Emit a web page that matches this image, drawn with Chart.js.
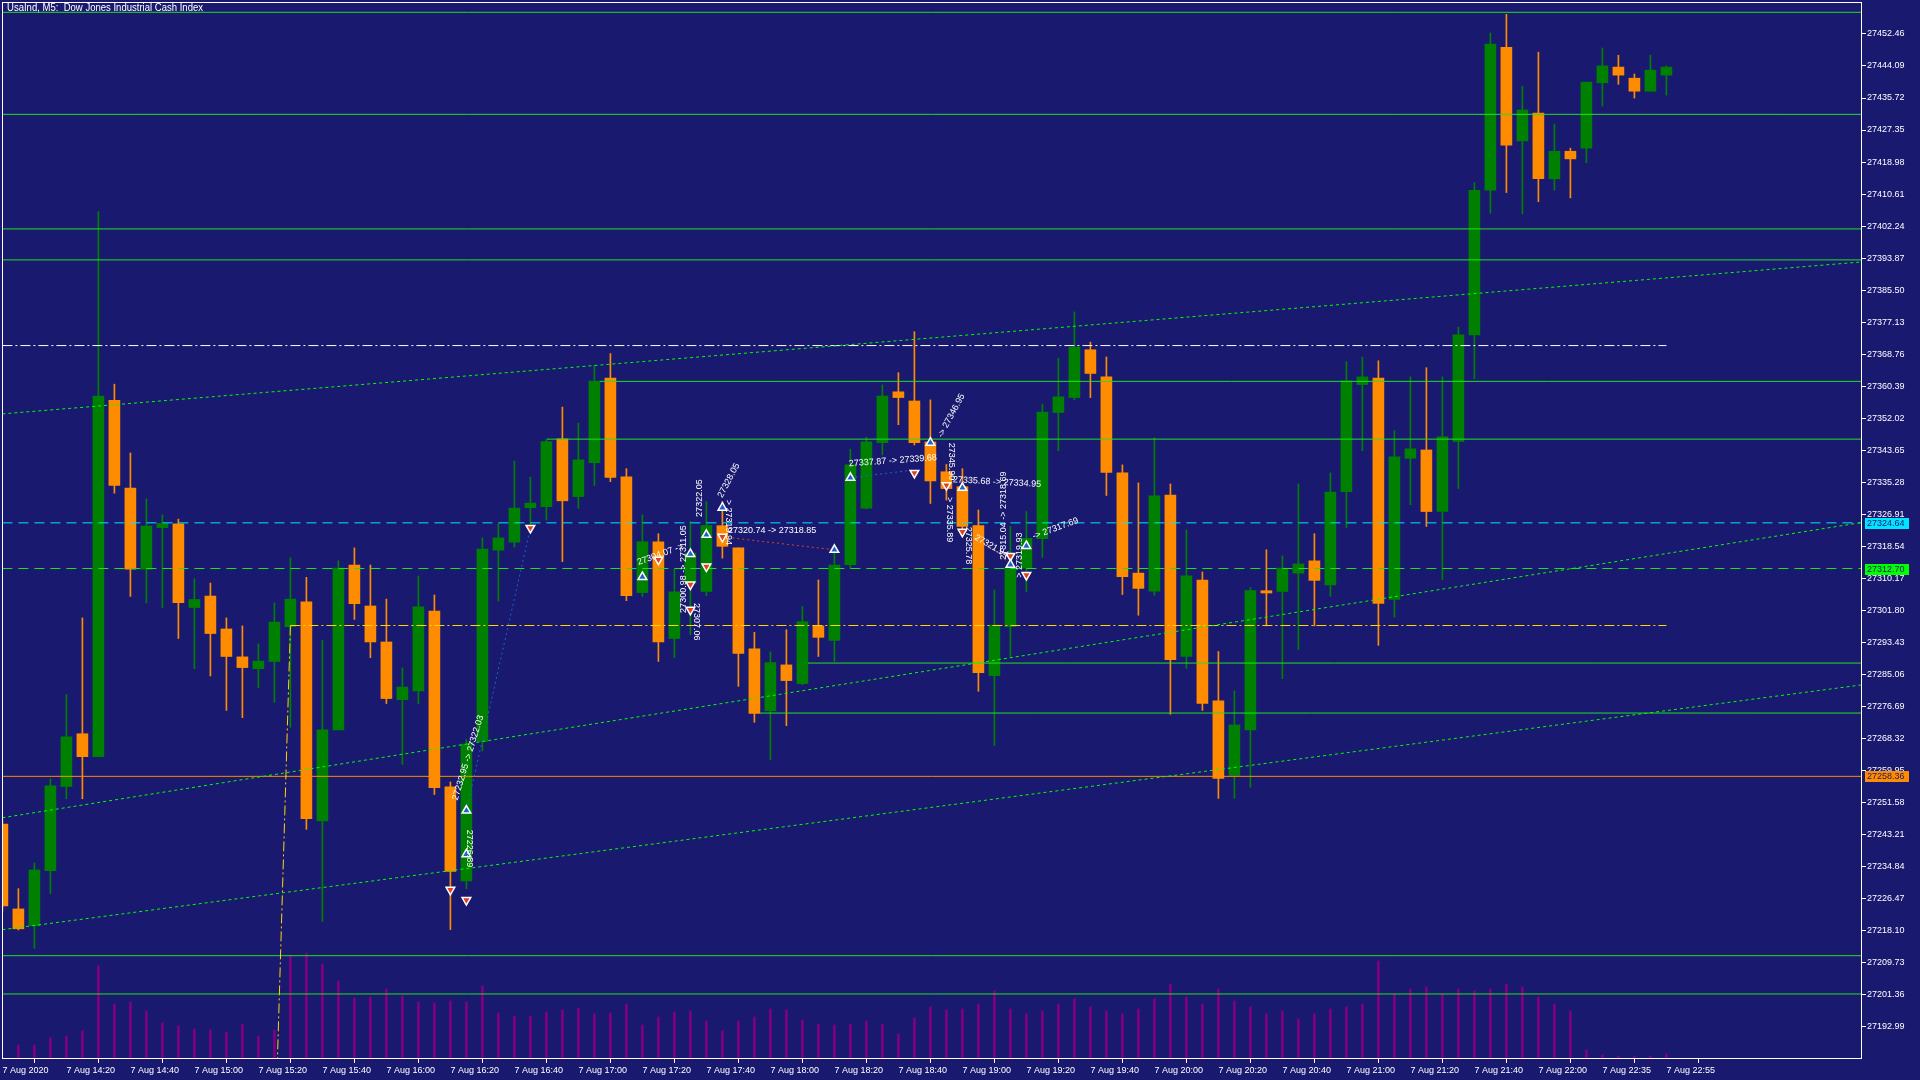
<!DOCTYPE html>
<html>
<head>
<meta charset="utf-8">
<title>UsaInd, M5</title>
<script src="https://cdn.jsdelivr.net/npm/chart.js@4.4.0/dist/chart.umd.min.js"></script>
<style>
    html, body { margin: 0; padding: 0; background: #191970; }
    #wrap { width: 1920px; height: 1080px; position: relative; }
</style>
</head>
<body>
<div id="wrap"><canvas id="chart" width="1920" height="1080"></canvas></div>
<script>
// Chart title
const chartTitle = 'UsaInd, M5:  Dow Jones Industrial Cash Index';

// Time axis labels (one every 4 bars of 5 minutes)
const xTickBars = [0, 4, 8, 12, 16, 20, 24, 28, 32, 36, 40, 44, 48, 52, 56, 60, 64, 68, 72, 76, 80, 84, 88, 92, 96, 100, 104];
const xTickLabels = ['7 Aug 2020', '7 Aug 14:20', '7 Aug 14:40', '7 Aug 15:00', '7 Aug 15:20', '7 Aug 15:40', '7 Aug 16:00',
    '7 Aug 16:20', '7 Aug 16:40', '7 Aug 17:00', '7 Aug 17:20', '7 Aug 17:40', '7 Aug 18:00', '7 Aug 18:20', '7 Aug 18:40',
    '7 Aug 19:00', '7 Aug 19:20', '7 Aug 19:40', '7 Aug 20:00', '7 Aug 20:20', '7 Aug 20:40', '7 Aug 21:00', '7 Aug 21:20',
    '7 Aug 21:40', '7 Aug 22:00', '7 Aug 22:35', '7 Aug 22:55'];

// Price axis labels
const yTickLabels = ['27452.46', '27444.09', '27435.72', '27427.35', '27418.98', '27410.61', '27402.24', '27393.87',
    '27385.50', '27377.13', '27368.76', '27360.39', '27352.02', '27343.65', '27335.28', '27326.91', '27318.54', '27310.17',
    '27301.80', '27293.43', '27285.06', '27276.69', '27268.32', '27259.95', '27251.58', '27243.21', '27234.84', '27226.47',
    '27218.10', '27209.73', '27201.36', '27192.99'];
const priceMin = 27184.46;
const priceMax = 27460.82;

// OHLC per 5 minute bar, 14:00 .. 22:55
const opens = [27245.9, 27223.7, 27219.3, 27233.7, 27255.7, 27269.5, 27263.5, 27356.7, 27333.7, 27312.5,
    27323.4, 27324.4, 27302.5, 27305.5, 27296.9, 27289.6, 27286.5, 27288.4, 27297.5, 27304.0,
    27246.7, 27270.5, 27313.6, 27302.9, 27293.5, 27278.4, 27280.7, 27301.6, 27255.6, 27231.0,
    27267.5, 27317.5, 27319.6, 27328.6, 27328.9, 27346.6, 27331.5, 27340.4, 27362.5, 27336.7,
    27306.4, 27319.7, 27294.4, 27308.9, 27306.7, 27323.9, 27318.1, 27291.7, 27275.5, 27287.5,
    27282.6, 27297.7, 27293.9, 27313.7, 27328.5, 27345.6, 27358.9, 27356.5, 27345.8, 27338.0,
    27334.1, 27323.9, 27284.7, 27297.5, 27312.8, 27320.5, 27353.5, 27357.4, 27369.9, 27362.8,
    27337.7, 27311.5, 27306.8, 27331.9, 27289.7, 27309.7, 27278.1, 27258.6, 27270.5, 27306.9,
    27306.7, 27311.5, 27314.7, 27308.4, 27332.8, 27360.8, 27362.5, 27304.6, 27341.5, 27343.7,
    27327.6, 27345.9, 27373.8, 27411.6, 27449.0, 27424.5, 27431.8, 27414.6, 27421.8, 27422.6,
    27439.7, 27443.8, 27440.9, 27437.5, 27441.7];
const highs = [27247.0, 27229.0, 27235.7, 27257.7, 27279.7, 27299.8, 27406.0, 27360.9, 27342.9, 27330.9,
    27326.7, 27325.6, 27310.0, 27308.9, 27299.8, 27297.7, 27293.0, 27303.7, 27315.5, 27310.4,
    27294.0, 27314.7, 27318.1, 27313.6, 27304.7, 27286.7, 27310.7, 27305.8, 27256.9, 27268.0,
    27320.7, 27324.4, 27340.8, 27336.6, 27346.5, 27354.9, 27350.7, 27365.8, 27368.9, 27338.8,
    27326.7, 27321.8, 27312.5, 27325.0, 27330.2, 27330.2, 27318.1, 27296.0, 27290.9, 27296.7,
    27302.8, 27309.7, 27318.5, 27343.9, 27347.0, 27360.7, 27363.9, 27374.6, 27356.8, 27339.9,
    27338.8, 27328.0, 27307.1, 27323.7, 27327.6, 27355.7, 27367.7, 27379.8, 27371.9, 27368.0,
    27339.8, 27335.1, 27346.9, 27334.8, 27322.8, 27311.8, 27291.0, 27280.7, 27307.7, 27317.6,
    27316.0, 27334.8, 27321.8, 27337.7, 27366.8, 27368.0, 27367.0, 27348.7, 27362.8, 27365.2,
    27362.8, 27375.8, 27413.6, 27452.7, 27457.6, 27438.8, 27447.7, 27428.9, 27422.6, 27439.9,
    27448.8, 27446.9, 27442.0, 27446.9, 27444.1];
const lows = [27223.0, 27218.2, 27213.4, 27227.7, 27252.5, 27252.5, 27263.5, 27332.4, 27305.4, 27303.7,
    27302.5, 27294.4, 27286.5, 27284.6, 27275.6, 27273.7, 27281.5, 27277.7, 27271.2, 27244.5,
    27220.4, 27270.5, 27299.4, 27289.4, 27277.4, 27261.5, 27277.4, 27253.6, 27218.3, 27229.0,
    27265.0, 27304.2, 27318.3, 27323.2, 27325.4, 27314.5, 27328.4, 27334.4, 27335.4, 27304.3,
    27305.4, 27288.4, 27289.4, 27295.4, 27305.6, 27315.4, 27281.9, 27272.5, 27262.7, 27271.6,
    27282.3, 27289.7, 27288.4, 27312.8, 27328.3, 27342.4, 27350.3, 27345.0, 27329.7, 27330.6,
    27322.0, 27280.6, 27266.4, 27289.7, 27306.7, 27315.6, 27343.5, 27356.8, 27357.4, 27331.8,
    27305.9, 27300.5, 27305.7, 27274.6, 27286.6, 27275.6, 27252.6, 27252.6, 27255.5, 27297.7,
    27283.9, 27291.5, 27297.7, 27305.4, 27323.4, 27343.5, 27292.6, 27300.0, 27329.4, 27323.7,
    27309.8, 27333.6, 27362.3, 27405.6, 27411.0, 27405.4, 27408.6, 27411.6, 27409.6, 27418.8,
    27433.6, 27439.3, 27435.7, 27437.5, 27436.5];
const closes = [27224.5, 27218.5, 27233.9, 27255.9, 27268.7, 27263.5, 27357.8, 27334.4, 27312.5, 27323.8,
    27324.5, 27303.8, 27304.6, 27295.7, 27289.7, 27286.8, 27288.5, 27298.7, 27304.7, 27247.3,
    27270.5, 27312.8, 27303.5, 27293.5, 27278.7, 27281.7, 27302.7, 27255.4, 27233.5, 27266.8,
    27317.8, 27320.7, 27328.5, 27329.8, 27345.9, 27330.4, 27341.1, 27361.7, 27336.5, 27305.6,
    27319.7, 27293.5, 27306.6, 27316.7, 27323.9, 27318.5, 27290.5, 27274.8, 27288.1, 27283.4,
    27298.8, 27294.7, 27313.6, 27339.8, 27345.8, 27357.8, 27357.4, 27345.6, 27335.6, 27333.6,
    27323.7, 27285.5, 27297.9, 27312.8, 27320.6, 27353.6, 27357.6, 27370.6, 27363.7, 27337.8,
    27310.6, 27307.5, 27331.7, 27288.9, 27310.8, 27277.4, 27257.8, 27271.8, 27306.9, 27306.3,
    27312.8, 27313.9, 27309.6, 27332.7, 27361.8, 27362.8, 27303.6, 27341.9, 27344.0, 27327.6,
    27347.1, 27373.8, 27411.6, 27449.8, 27423.4, 27432.6, 27414.6, 27421.8, 27419.8, 27439.9,
    27444.1, 27441.7, 27437.5, 27443.0, 27443.8];

// Tick volume per bar
const volumes = [0, 14, 14, 21, 23, 28, 93, 55, 57, 48, 36, 33, 30, 29, 27, 35, 23, 29, 104, 106,
    95, 78, 61, 62, 70, 63, 57, 56, 58, 57, 73, 46, 43, 43, 47, 49, 51, 45, 46, 55,
    34, 42, 47, 48, 38, 28, 38, 42, 50, 49, 39, 35, 34, 35, 38, 35, 25, 41, 52, 49,
    50, 55, 68, 50, 45, 48, 55, 60, 52, 48, 45, 50, 60, 75, 62, 55, 70, 58, 52, 45,
    48, 40, 45, 50, 52, 55, 98, 65, 70, 72, 65, 70, 68, 70, 75, 72, 62, 55, 48, 9,
    4, 3, 3, 3, 5];
const volumeMax = 1057;

// Horizontal levels: price, first bar, last bar
const levelPrices = [27458.13, 27431.45, 27401.49, 27393.39, 27370.99, 27361.63, 27346.53, 27324.64,
    27312.70, 27297.80, 27287.98, 27274.91, 27258.36, 27211.47, 27201.46];
const levelFrom = [0, 0, 0, 0, 0, 37.35, 34.04, 0, 0, 18, 50.35, 47.35, 0, 0, 0];
const levelTo = [117, 117, 117, 117, 104, 117, 117, 117, 117, 104, 117, 117, 117, 117, 117];

// Sloped trend lines (dotted)
const trendFromBar = [0, 0, 0];
const trendToBar = [116.25, 116.25, 116.25];
const trendFromPrice = [27353.13, 27247.54, 27218.27];
const trendToPrice = [27392.87, 27324.75, 27282.30];

// Near-vertical dash-dot marker line
const vlineBars = [18.0, 17.19];
const vlinePrices = [27297.80, priceMin];

// Price labels on the axis
const axisTagPrices = [27324.64, 27312.70, 27258.36];

// Trade arrows
const buyBars = [29, 29, 40, 43, 44, 45, 52, 53, 58, 60, 63, 64];
const buyPrices = [27249.4, 27238.0, 27310.5, 27316.5, 27321.5, 27328.6, 27317.6, 27336.4, 27345.6, 27333.8, 27313.7, 27318.6];
const sellBars = [28, 29, 33, 41, 43, 43, 44, 45, 57, 59, 60, 63, 64];
const sellPrices = [27228.7, 27226.0, 27323.3, 27315.0, 27308.5, 27301.9, 27313.2, 27321.0, 27337.7, 27334.5, 27322.3, 27316.0, 27311.0];

// Trade links: from bar/price to bar/price
const linkFromBar = [29, 45, 53, 61];
const linkFromPrice = [27249.4, 27321.0, 27336.4, 27321.5];
const linkToBar = [33, 52, 57, 63];
const linkToPrice = [27323.3, 27317.6, 27338.5, 27313.7];

// Trade notes
const noteTexts = ['27320.74 -> 27318.85', '27337.87 -> 27339.68', '27335.68 -> 27334.95', '-> 27346.95',
    '27328.05', '27322.05', '27300.98 -> 27311.05', '27307.06', '> 27319.94', '27304.07 ->',
    '27345.90', '> 27335.89', '27325.78', '27315.04 -> 27318.69', '> 27319.93', '-> 27317.69',
    '27321.94', '27232.95 -> 27322.03', '27226.89'];
const noteBars = [45.35, 52.9, 59.4, 58.6, 44.85, 43.6, 42.6, 43.4, 45.35, 39.7,
    59.3, 59.2, 60.35, 62.6, 63.6, 64.4, 60.8, 28.3, 29.2];
const notePrices = [27322.56, 27340.07, 27335.89, 27347.1, 27331.4, 27326.2, 27301.1, 27303.7, 27330.7, 27314.2,
    27345.6, 27331.4, 27323.6, 27315.0, 27310.3, 27321.0, 27321.0, 27252.2, 27244.4];
const noteAngles = [0, -4, 3, -62, -62, -90, -90, 90, 90, -20, 90, 90, 90, -90, -90, -20, 30, -73, 90];

// Colours
const BG = '#191970';
const BULL = '#008000';
const BEAR = '#FF8C00';
const LIME = '#22e022';
const levelStyles = [
    { color: LIME, dash: [] }, { color: LIME, dash: [] }, { color: LIME, dash: [] }, { color: LIME, dash: [] },
    { color: '#ffffff', dash: [10, 3, 2, 3] }, { color: LIME, dash: [] }, { color: LIME, dash: [] },
    { color: '#00e5ff', dash: [10, 6] }, { color: LIME, dash: [10, 6] }, { color: '#FFD700', dash: [10, 3, 2, 3] },
    { color: LIME, dash: [] }, { color: LIME, dash: [] }, { color: BEAR, dash: [] }, { color: LIME, dash: [] },
    { color: LIME, dash: [] }
];
const axisTagColors = ['#00e5ff', '#00ff00', '#FF8C00'];

document.addEventListener('DOMContentLoaded', function() {
    const ctx = document.getElementById('chart').getContext('2d');
    const candleColors = opens.map((o, i) => closes[i] >= o ? BULL : BEAR);

    const datasets = [];

    // Volumes
    datasets.push({
        type: 'bar', yAxisID: 'yv', order: 20, grouped: false,
        data: volumes.map((v, i) => ({ x: i, y: v })),
        backgroundColor: '#800080', barThickness: 2
    });
    // Wicks
    datasets.push({
        type: 'bar', order: 15, grouped: false,
        data: highs.map((h, i) => ({ x: i, y: [lows[i], h] })),
        backgroundColor: candleColors, barThickness: 1, minBarLength: 1
    });
    // Bodies
    datasets.push({
        type: 'bar', order: 14, grouped: false,
        data: opens.map((o, i) => ({ x: i, y: [o, closes[i]] })),
        backgroundColor: candleColors, barThickness: 11, minBarLength: 1
    });
    // Horizontal levels
    levelPrices.forEach((p, k) => {
        datasets.push({
            type: 'line', order: 8,
            data: [{ x: levelFrom[k], y: p }, { x: levelTo[k], y: p }],
            borderColor: levelStyles[k].color, borderWidth: 1, borderDash: levelStyles[k].dash,
            pointRadius: 0
        });
    });
    // Trend lines
    trendFromBar.forEach((b, k) => {
        datasets.push({
            type: 'line', order: 7,
            data: [{ x: b, y: trendFromPrice[k] }, { x: trendToBar[k], y: trendToPrice[k] }],
            borderColor: '#00ff00', borderWidth: 1, borderDash: [3, 3], pointRadius: 0
        });
    });
    // Vertical dash-dot marker
    datasets.push({
        type: 'line', order: 7,
        data: vlineBars.map((b, k) => ({ x: b, y: vlinePrices[k] })),
        borderColor: '#FFD700', borderWidth: 1, borderDash: [10, 3, 2, 3], pointRadius: 0
    });
    // Trade links
    linkFromBar.forEach((b, k) => {
        datasets.push({
            type: 'line', order: 6,
            data: [{ x: b, y: linkFromPrice[k] }, { x: linkToBar[k], y: linkToPrice[k] }],
            borderColor: k % 2 === 0 ? '#1e64c8' : '#e04020', borderWidth: 1, borderDash: [2, 3], pointRadius: 0
        });
    });
    // Trade arrows
    datasets.push({
        type: 'scatter', order: 2,
        data: buyBars.map((b, k) => ({ x: b, y: buyPrices[k] })),
        pointStyle: 'triangle', pointRadius: 5, backgroundColor: '#1e64c8', borderColor: '#ffffff', borderWidth: 1.5
    });
    datasets.push({
        type: 'scatter', order: 2,
        data: sellBars.map((b, k) => ({ x: b, y: sellPrices[k] })),
        pointStyle: 'triangle', rotation: 180, pointRadius: 5, backgroundColor: '#e04020', borderColor: '#ffffff', borderWidth: 1.5
    });

    // Overlay drawing: notes, frame, title, axis tags
    const overlay = {
        id: 'overlay',
        afterDatasetsDraw(chart) {
            const { ctx, chartArea: a, scales: { x, y } } = chart;
            ctx.save();
            ctx.beginPath();
            ctx.rect(a.left, a.top, a.right - a.left, a.bottom - a.top);
            ctx.clip();
            ctx.fillStyle = '#ffffff';
            ctx.font = '9px "Liberation Sans"';
            ctx.textBaseline = 'middle';
            ctx.textAlign = 'left';
            noteTexts.forEach((t, k) => {
                ctx.save();
                ctx.translate(x.getPixelForValue(noteBars[k]), y.getPixelForValue(notePrices[k]));
                ctx.rotate(noteAngles[k] * Math.PI / 180);
                ctx.fillText(t, 0, 0);
                ctx.restore();
            });
            ctx.restore();
        },
        afterDraw(chart) {
            const { ctx, chartArea: a, scales: { y } } = chart;
            ctx.save();
            // frame
            ctx.strokeStyle = '#ffffff';
            ctx.lineWidth = 1;
            ctx.strokeRect(a.left + 0.5, a.top + 0.5, a.right - a.left - 1, a.bottom - a.top - 1);
            // title
            ctx.fillStyle = '#ffffff';
            ctx.font = '10px "Liberation Sans"';
            ctx.textBaseline = 'middle';
            ctx.textAlign = 'left';
            ctx.fillText(chartTitle, 7, 8, 196);
            // axis tags
            ctx.font = '9px "Liberation Sans"';
            axisTagPrices.forEach((p, k) => {
                const py = Math.round(y.getPixelForValue(p));
                ctx.fillStyle = axisTagColors[k];
                ctx.fillRect(a.right + 3, py - 5, 44, 11);
                ctx.fillStyle = BG;
                ctx.fillText(p.toFixed(2), a.right + 5, py + 0.5);
            });
            ctx.restore();
        }
    };

    new Chart(ctx, {
        type: 'bar',
        data: { datasets: datasets },
        plugins: [overlay],
        options: {
            responsive: false,
            animation: false,
            devicePixelRatio: 1,
            layout: { autoPadding: false, padding: { left: 2, top: 2, right: 0, bottom: 0 } },
            plugins: {
                legend: { display: false },
                tooltip: { enabled: false }
            },
            scales: {
                x: {
                    type: 'linear',
                    min: -0.025,
                    max: 116.225,
                    offset: false,
                    border: { display: false },
                    grid: { display: true, drawOnChartArea: false, drawTicks: true, tickLength: 4, color: '#ffffff' },
                    afterBuildTicks: function(scale) {
                        scale.ticks = xTickBars.map(v => ({ value: v }));
                    },
                    afterFit: function(scale) {
                        scale.height = 21;
                        scale.paddingLeft = 0;
                        scale.paddingRight = 0;
                    },
                    ticks: {
                        autoSkip: false,
                        maxRotation: 0,
                        minRotation: 0,
                        align: 'start',
                        padding: 2,
                        color: '#ffffff',
                        font: { family: 'Liberation Sans', size: 9 },
                        callback: function(value, index) {
                            return xTickLabels[index];
                        }
                    }
                },
                y: {
                    type: 'linear',
                    position: 'right',
                    min: priceMin,
                    max: priceMax,
                    border: { display: false },
                    grid: { display: true, drawOnChartArea: false, drawTicks: true, tickLength: 4, color: '#ffffff' },
                    afterBuildTicks: function(scale) {
                        scale.ticks = yTickLabels.map(s => ({ value: parseFloat(s) }));
                    },
                    afterFit: function(scale) {
                        scale.width = 58;
                        scale.paddingTop = 0;
                        scale.paddingBottom = 0;
                    },
                    ticks: {
                        autoSkip: false,
                        padding: 1,
                        color: '#ffffff',
                        font: { family: 'Liberation Sans', size: 9 },
                        callback: function(value) {
                            return value.toFixed(2);
                        }
                    }
                },
                yv: {
                    type: 'linear',
                    display: false,
                    min: 0,
                    max: volumeMax
                }
            }
        }
    });
});
</script>
</body>
</html>
